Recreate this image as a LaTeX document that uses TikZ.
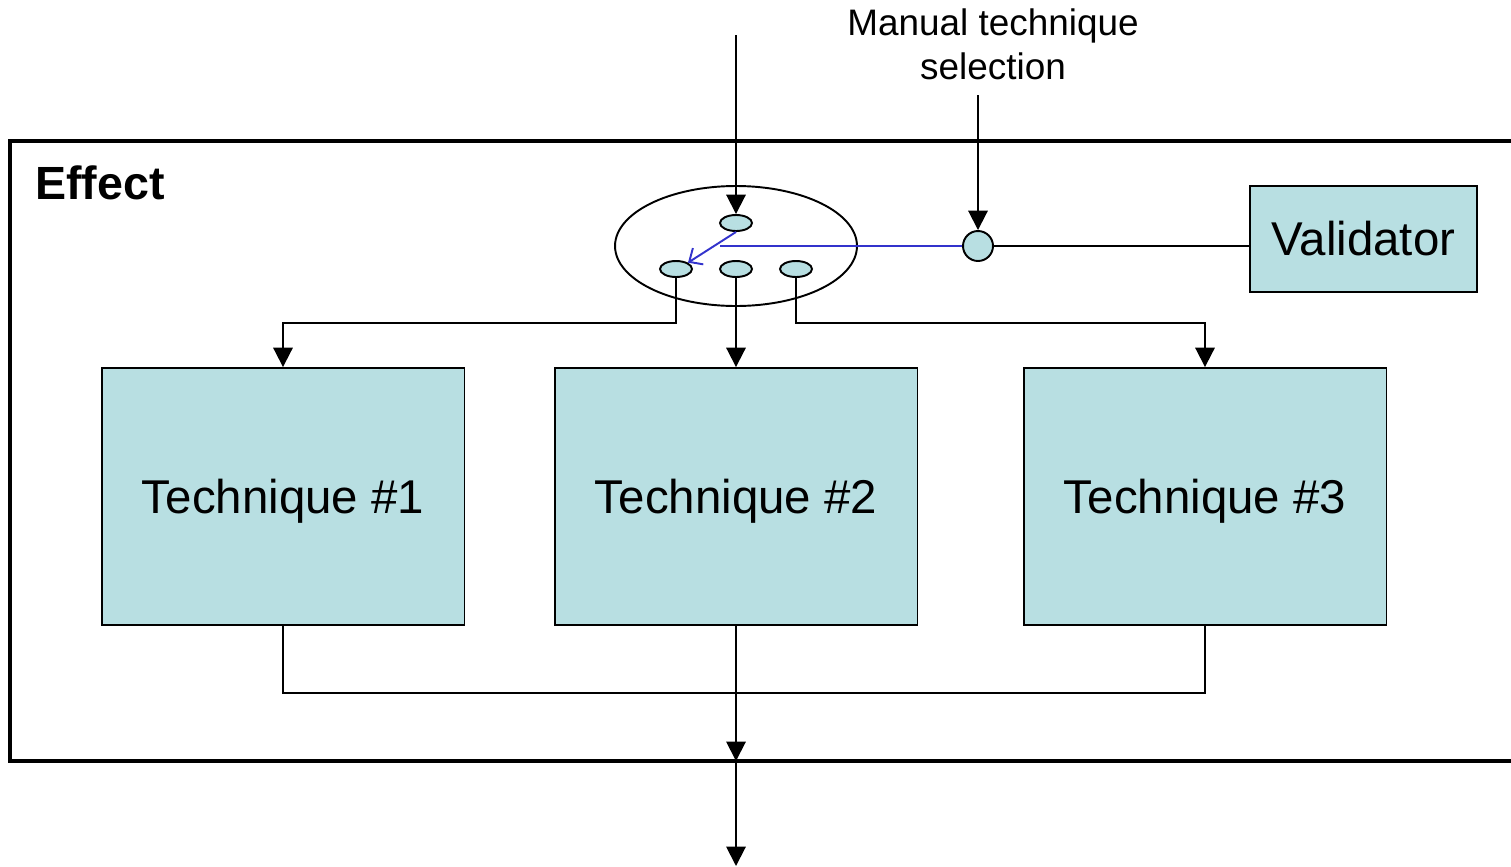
\documentclass[tikz,border=0pt]{standalone}
\usepackage{fontspec}
\setmainfont{Liberation Sans}
\usetikzlibrary{arrows.meta}
\usetikzlibrary{shapes.geometric}
\definecolor{techfill}{RGB}{184,223,226}
\definecolor{switchblue}{RGB}{51,51,204}

\begin{document}
\begin{tikzpicture}[x=0.02cm,y=-0.02cm] % one unit = one pixel of the reference
    \tikzstyle{tech}=[draw, fill=techfill, line width=1.1pt, minimum width=7.26cm, minimum height=5.14cm, inner sep=0pt, text depth=0pt, font=\fontsize{27}{32}\selectfont]
    \tikzstyle{contact}=[draw, ellipse, fill=techfill, line width=1.1pt, minimum width=0.64cm, minimum height=0.32cm, inner sep=0pt]
    \tikzstyle{arr}=[line width=1.1pt, -{Triangle[length=11pt, width=11pt]}]
    \tikzstyle{wire}=[line width=1.1pt]
    \useasboundingbox (0,0) rectangle (1511,866);

    % effect frame, open to the right
    \draw[line width=2.4pt] (1511,141) -- (10,141) -- (10,761) -- (1511,761);
    \node[anchor=west, font=\fontsize{26.5}{30}\selectfont\bfseries] (effect) at (29,183) {Effect};

    % switch
    \node[draw, ellipse, line width=1.1pt, minimum width=4.84cm, minimum height=2.4cm, inner sep=0pt] (switch) at (736,246) {};
    \node[contact] (cin) at (736,223) {};
    \foreach \k/\x in {1/676, 2/736, 3/796} {
        \node[contact] (c\k) at (\x,269) {};
    }
    \node[draw, circle, fill=techfill, line width=1.1pt, minimum size=0.6cm, inner sep=0pt] (sel) at (978,246) {};
    \node[draw, fill=techfill, line width=1.1pt, minimum width=4.54cm, minimum height=2.12cm, inner sep=0pt, font=\fontsize{27}{32}\selectfont] (valid) at (1363.5,239) {Validator};

    \node[align=center, font=\fontsize{21}{25}\selectfont] (manual) at (993,44) {Manual technique\\selection};

    % techniques
    \foreach \k/\x in {1/283, 2/736, 3/1205} {
        \node[tech] (t\k) at (\x,496.5) {Technique \#\k};
    }

    % input and selection
    \coordinate (in) at (736,35);
    \coordinate (man) at (978,95);
    \draw[arr] (in) -- (cin.north);
    \draw[arr] (man) -- (sel.north);
    \draw[wire] (sel.east) -- (sel.east -| valid.west);
    \draw[line width=1.1pt, switchblue] (sel.west) -- (720,246);
    \draw[line width=1.1pt, switchblue, -{Straight Barb[length=6pt, width=11pt]}] (cin.south) -- (c1.north east);

    % contacts to techniques
    \draw[arr] (c1.south) -- ++(0,45) -| (t1.north);
    \draw[arr] (c2.south) -- (t2.north);
    \draw[arr] (c3.south) -- ++(0,45) -| (t3.north);

    % outputs
    \coordinate (exit) at (736,761);
    \coordinate (out) at (736,866);
    \draw[wire] (t1.south) -- ++(0,67) -| (t3.south);
    \draw[arr] (t2.south) -- (exit);
    \draw[arr] (exit) -- (out);
\end{tikzpicture}
\end{document}
